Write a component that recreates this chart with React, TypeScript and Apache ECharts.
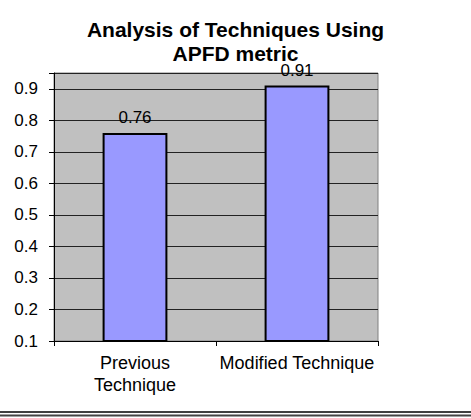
import React, { useEffect, useRef } from "react";
import * as echarts from "echarts";

const categories = ["Previous Technique", "Modified Technique"];
const apfdValues = [0.76, 0.91];
const titleText = "Analysis of Techniques Using\nAPFD metric";

export default function App() {
  const ref = useRef<HTMLDivElement>(null);
  useEffect(() => {
    document.body.style.margin = "0";
    const chart = echarts.init(ref.current!, null, { renderer: "svg" });
    const font = "'Liberation Sans', Arial, sans-serif";
    chart.setOption({
      animation: false,
      backgroundColor: "#ffffff",
      textStyle: { fontFamily: font },
      title: {
        text: titleText,
        left: "center",
        top: 12,
        textStyle: {
          fontFamily: font,
          fontSize: 21,
          fontWeight: "bold",
          color: "#000",
          lineHeight: 24,
        },
      },
      grid: {
        left: 54,
        right: 93,
        top: 73,
        bottom: 77,
        show: true,
        backgroundColor: "#c0c0c0",
        borderColor: "#808080",
        borderWidth: 1,
      },
      xAxis: {
        type: "category",
        data: categories,
        axisLine: { lineStyle: { color: "#000", width: 1 } },
        axisTick: { show: true, length: 5, lineStyle: { color: "#000" } },
        axisLabel: {
          interval: 0,
          hideOverlap: false,
          color: "#000",
          fontSize: 18,
          lineHeight: 22,
          margin: 11,
          fontFamily: font,
          formatter: (v: string) => (v === "Previous Technique" ? "Previous\nTechnique" : v),
        },
      },
      yAxis: {
        type: "value",
        min: 0.1,
        max: 0.95,
        interval: 0.1,
        axisLine: { show: true, lineStyle: { color: "#000", width: 1 } },
        axisTick: { show: true, length: 5, lineStyle: { color: "#000" } },
        splitLine: { show: true, lineStyle: { color: "#222", width: 1 } },
        axisLabel: {
          color: "#000",
          fontSize: 17,
          margin: 16,
          fontFamily: font,
          formatter: (v: number) =>
            Math.abs(v * 10 - Math.round(v * 10)) < 1e-6 ? v.toFixed(1) : "",
        },
      },
      series: [
        {
          type: "bar",
          data: apfdValues,
          barWidth: "40%",
          itemStyle: { color: "#9999ff", borderColor: "#000", borderWidth: 2 },
          label: {
            show: true,
            position: "top",
            distance: 9,
            color: "#000",
            fontSize: 17,
            lineHeight: 13,
            fontFamily: font,
          },
        },
      ],
      graphic: [
        {
          type: "line",
          shape: { x1: 0, y1: 412, x2: 471, y2: 412 },
          style: { stroke: "#000", lineWidth: 1.5 },
        },
        {
          type: "line",
          shape: { x1: 0, y1: 415.5, x2: 471, y2: 415.5 },
          style: { stroke: "#444", lineWidth: 2 },
        },
      ],
    });
    return () => chart.dispose();
  }, []);
  return <div ref={ref} style={{ width: 471, height: 418 }} />;
}
